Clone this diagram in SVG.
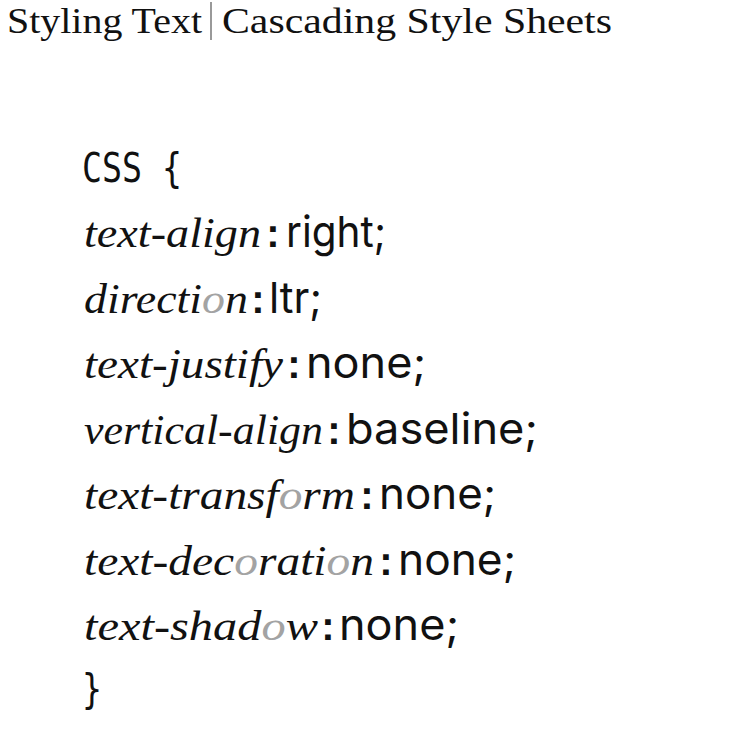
<svg xmlns="http://www.w3.org/2000/svg" width="750" height="750" viewBox="0 0 750 750">
<style>
.title{font-family:"Liberation Serif",serif;font-size:35px;fill:#111}
.code{font-family:"DejaVu Sans Mono","Liberation Mono",monospace;font-size:40px;fill:#111}
.prop{font-family:"Liberation Serif",serif;font-style:italic;font-size:43px;fill:#111}
.o{fill:#a3a3a3}
.colon{font-family:"Liberation Sans",Arial,sans-serif;font-size:40px;font-weight:bold;fill:#111;text-anchor:middle}
.val{font-family:Inter,"Liberation Sans",sans-serif;font-size:43px;fill:#111}
</style>
<rect width="750" height="750" fill="#fff"/>
<g id="title">
<text class="title" x="7" y="33" textLength="195" lengthAdjust="spacingAndGlyphs">Styling Text</text>
<line x1="211" y1="2" x2="211" y2="40" stroke="#555" stroke-width="1.2"/>
<text class="title" x="222" y="33" textLength="390" lengthAdjust="spacingAndGlyphs">Cascading Style Sheets</text>
</g>
<g id="open">
<text class="code" x="82" y="182" textLength="100" lengthAdjust="spacingAndGlyphs">CSS {</text>
</g>
<g id="text-align">
<text class="prop" x="84" y="247" textLength="177" lengthAdjust="spacingAndGlyphs">text-align</text>
<text class="colon" x="273" y="247">:</text>
<text class="val" x="286" y="247" textLength="100" lengthAdjust="spacingAndGlyphs">right;</text>
</g>
<g id="direction">
<text class="prop" x="84" y="312.5" textLength="164" lengthAdjust="spacingAndGlyphs">directi<tspan class="o">o</tspan>n</text>
<text class="colon" x="258" y="312.5">:</text>
<text class="val" x="269" y="312.5" textLength="53" lengthAdjust="spacingAndGlyphs">ltr;</text>
</g>
<g id="text-justify">
<text class="prop" x="84" y="378" textLength="199" lengthAdjust="spacingAndGlyphs">text-justify</text>
<text class="colon" x="294" y="378">:</text>
<text class="val" x="306" y="378" textLength="120" lengthAdjust="spacingAndGlyphs">none;</text>
</g>
<g id="vertical-align">
<text class="prop" x="84" y="443.5" textLength="239" lengthAdjust="spacingAndGlyphs">vertical-align</text>
<text class="colon" x="334" y="443.5">:</text>
<text class="val" x="346" y="443.5" textLength="192" lengthAdjust="spacingAndGlyphs">baseline;</text>
</g>
<g id="text-transform">
<text class="prop" x="84" y="509" textLength="271" lengthAdjust="spacingAndGlyphs">text-transf<tspan class="o">o</tspan>rm</text>
<text class="colon" x="367" y="509">:</text>
<text class="val" x="379" y="509" textLength="117" lengthAdjust="spacingAndGlyphs">none;</text>
</g>
<g id="text-decoration">
<text class="prop" x="84" y="574.5" textLength="290" lengthAdjust="spacingAndGlyphs">text-dec<tspan class="o">o</tspan>rati<tspan class="o">o</tspan>n</text>
<text class="colon" x="386" y="574.5">:</text>
<text class="val" x="398" y="574.5" textLength="118" lengthAdjust="spacingAndGlyphs">none;</text>
</g>
<g id="text-shadow">
<text class="prop" x="84" y="640" textLength="234" lengthAdjust="spacingAndGlyphs">text-shad<tspan class="o">o</tspan>w</text>
<text class="colon" x="328" y="640">:</text>
<text class="val" x="339" y="640" textLength="120" lengthAdjust="spacingAndGlyphs">none;</text>
</g>
<g id="close">
<text class="code" x="82" y="703" textLength="20" lengthAdjust="spacingAndGlyphs">}</text>
</g>
<g id="connectors"/>
</svg>
